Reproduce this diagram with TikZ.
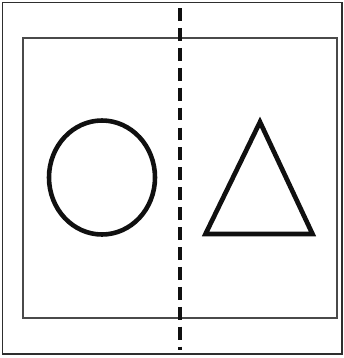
\documentclass[tikz,border=0pt]{standalone}
\usepackage{xcolor}
\usepackage{tikz}
\definecolor{FrameGrey}{HTML}{2E2E2E}
\definecolor{PanelGrey}{HTML}{4A4A4A}
\definecolor{ShapeBlack}{HTML}{101010}
\begin{document}
\begin{tikzpicture}[x=0.03cm,y=-0.03cm]
  \useasboundingbox (0,0) rectangle (344,358);
  \draw[FrameGrey,line width=1.3pt] (2.5,2.5) rectangle (342,354);
  \draw[PanelGrey,line width=1.2pt] (23,38) rectangle (337,318);
  \draw[ShapeBlack,line width=3.8pt,dash pattern=on 11pt off 6pt] (180,8)--(180,350);
  \draw[ShapeBlack,line width=3.9pt] (102,177.5) ellipse[x radius=53,y radius=57];
  \draw[ShapeBlack,line width=4pt,line join=miter] (260,122)--(312.5,234)--(205.5,234)--cycle;
\end{tikzpicture}
\end{document}
